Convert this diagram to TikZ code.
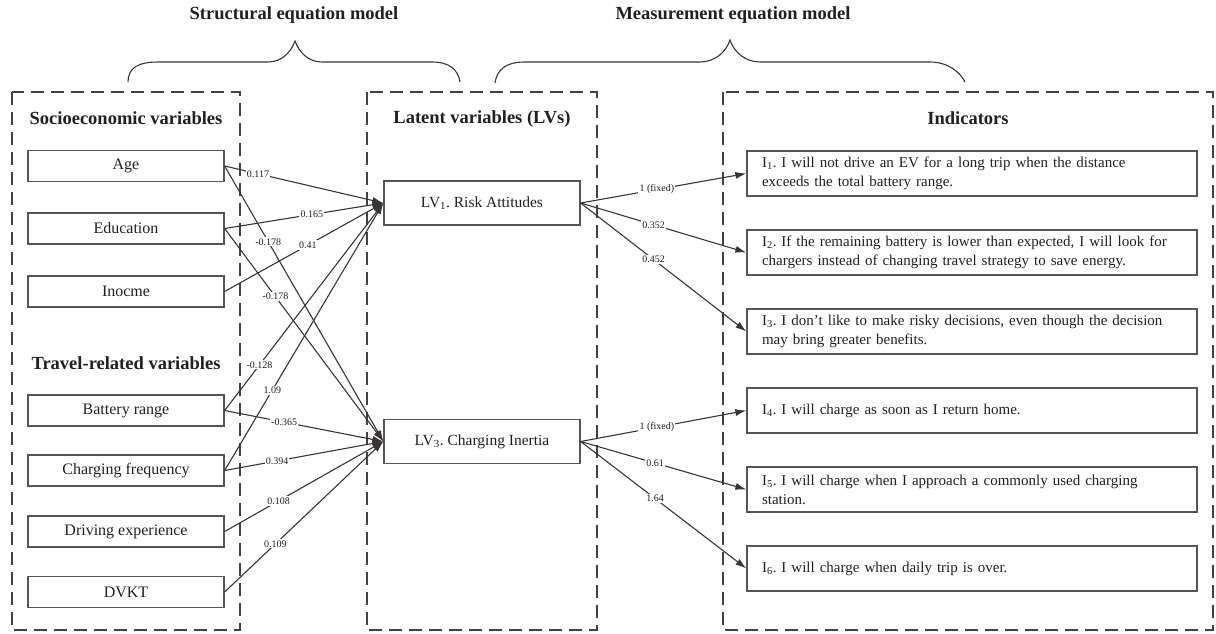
\documentclass[tikz,border=0pt]{standalone}
\usepackage{fontspec}
\setmainfont{Liberation Serif}
\usetikzlibrary{arrows.meta}
\definecolor{ink}{HTML}{231F20}
\definecolor{rim}{HTML}{555555}

\begin{document}
\frenchspacing
\begin{tikzpicture}[x=1pt,y=-1pt,>={Latex[length=11pt,width=7pt]},color=ink,
	varbox/.style={draw=rim,line width=1.3pt,minimum width=196pt,minimum height=31pt,
		inner sep=0pt,font=\fontsize{16}{18}\selectfont},
	lvbox/.style={varbox,minimum height=44pt,font=\fontsize{15.5}{18}\selectfont},
	indbox/.style={draw=rim,line width=1.3pt,minimum width=450pt,minimum height=45pt,
		text width=420pt,inner xsep=15pt,inner ysep=0pt,align=left,
		font=\fontsize{15}{19}\selectfont},
	grp/.style={draw=ink!85,line width=1.2pt,dash pattern=on 13pt off 7pt},
	head/.style={font=\fontsize{18.5}{20}\selectfont\bfseries},
	lbl/.style={fill=white,inner sep=1.2pt,font=\fontsize{10}{11}\selectfont},
	conn/.style={->,line width=1.1pt,draw=ink!90},
	brace/.style={line width=1.1pt,draw=ink!90}]
\useasboundingbox (0,0) rectangle (1216,633);

% braces and their titles
\node[head] (sem) at (294,15) {Structural equation model};
\node[head] (mem) at (733,15) {Measurement equation model};
\draw[brace] (128,82) .. controls (128,68) and (138,62) .. (158,62) -- (268,62)
	.. controls (282,62) and (291,52) .. (295,41)
	.. controls (299,52) and (308,62) .. (322,62) -- (432,62)
	.. controls (450,62) and (458,70) .. (460,82);
\draw[brace] (495,83) .. controls (497,70) and (505,62) .. (525,62) -- (700,62)
	.. controls (715,62) and (726,52) .. (730,40)
	.. controls (734,52) and (745,62) .. (760,62) -- (930,62)
	.. controls (948,62) and (960,72) .. (965,82);

% dashed groups
\draw[grp] (12,92) rectangle (240,630);
\draw[grp] (367,92) rectangle (597,630);
\draw[grp] (723,92) rectangle (1213,630);
\node[head] (socio) at (126,118) {Socioeconomic variables};
\node[head] (travel) at (126,363) {Travel-related variables};
\node[head] (latent) at (482,119) {Latent variables (LVs)};
\node[head] (indic) at (968,118) {Indicators};

% observed variables
\foreach \name/\y/\txt in {age/166/Age,edu/228.5/Education,inc/291.5/Inocme,
	bat/410.5/Battery range,frq/470.5/Charging frequency,
	drv/531.5/Driving experience,dvkt/592/DVKT}
	\node[varbox] (\name) at (126,\y) {\txt};

% latent variables
\node[lvbox] (lv1) at (482,203) {LV\textsubscript{1}. Risk Attitudes};
\node[lvbox] (lv3) at (482,441.5) {LV\textsubscript{3}. Charging Inertia};

% indicators
\node[indbox] (ind1) at (972,173.5) {I\textsubscript{1}. I will not drive an EV for a long trip when the distance\\exceeds the total battery range.};
\node[indbox] (ind2) at (972,252.5) {I\textsubscript{2}. If the remaining battery is lower than expected, I will look for\\chargers instead of changing travel strategy to save energy.};
\node[indbox] (ind3) at (972,331.5) {I\textsubscript{3}. I don't like to make risky decisions, even though the decision\\may bring greater benefits.};
\node[indbox] (ind4) at (972,410.5) {I\textsubscript{4}. I will charge as soon as I return home.};
\node[indbox] (ind5) at (972,489.5) {I\textsubscript{5}. I will charge when I approach a commonly used charging\\station.};
\node[indbox] (ind6) at (972,568.5) {I\textsubscript{6}. I will charge when daily trip is over.};

% structural paths
\foreach \from/\to/\p/\w in {age/lv1/0.21/0.117,edu/lv1/0.55/0.165,inc/lv1/0.525/0.41,
	age/lv3/0.275/-0.178,edu/lv3/0.32/-0.178,bat/lv1/0.22/-0.128,frq/lv1/0.3/1.09,
	bat/lv3/0.375/-0.365,frq/lv3/0.33/0.394,drv/lv3/0.34/0.108,dvkt/lv3/0.32/0.109}
	\draw[conn] (\from.east) -- node[lbl,pos=\p] {\w} (\to.west);

% measurement paths
\foreach \from/\to/\p/\w in {lv1/ind1/0.46/1 (fixed),lv1/ind2/0.44/0.352,lv1/ind3/0.44/0.452,
	lv3/ind4/0.46/1 (fixed),lv3/ind5/0.45/0.61,lv3/ind6/0.45/1.64}
	\draw[conn] (\from.east) -- node[lbl,pos=\p] {\w} (\to.west);

\end{tikzpicture}
\end{document}
